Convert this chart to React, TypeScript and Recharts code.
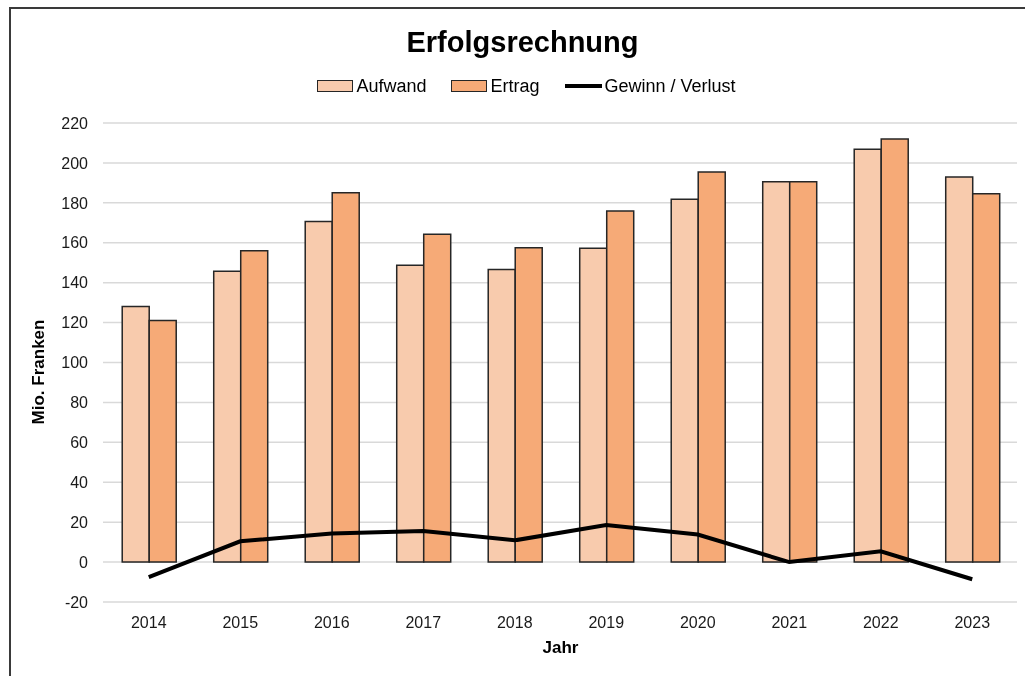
import React from 'react';
import { ComposedChart, Bar, Line, XAxis, YAxis, CartesianGrid } from 'recharts';

const years = ['2014', '2015', '2016', '2017', '2018', '2019', '2020', '2021', '2022', '2023'];
const aufwand = [128.1, 145.7, 170.7, 148.7, 146.6, 157.3, 181.8, 190.6, 206.9, 193.0];
const ertrag = [121.1, 156.0, 185.0, 164.3, 157.5, 175.9, 195.5, 190.6, 212.0, 184.6];
const gewinn = [-7.5, 10.4, 14.3, 15.6, 10.9, 18.6, 13.8, 0.0, 5.4, -8.6];
const yTicks = [-20, 0, 20, 40, 60, 80, 100, 120, 140, 160, 180, 200, 220];

const seriesNames = { aufwand: 'Aufwand', ertrag: 'Ertrag', gewinn: 'Gewinn / Verlust' };
const colors = { aufwand: '#F8CBAD', ertrag: '#F6AA77', gewinn: '#000000', edge: '#262626' };

const data = years.map((y, i) => ({ year: y, aufwand: aufwand[i], ertrag: ertrag[i], gewinn: gewinn[i] }));

const FONT = '"Liberation Sans", Arial, Helvetica, sans-serif';

const YLabel = () => (
  <text
    x={30}
    y={364}
    transform="rotate(-90, 30, 364)"
    textAnchor="middle"
    dominantBaseline="central"
    fontFamily={FONT}
    fontWeight="bold"
    fontSize={17}
    fill="#000"
  >
    Mio. Franken
  </text>
);

export default function App() {
  return (
    <div style={{ position: 'relative', width: 1017, height: 668, fontFamily: FONT }}>
      <div
        style={{
          position: 'fixed',
          left: 9,
          top: 7,
          width: 1100,
          height: 800,
          borderLeft: '2px solid #3a3a3a',
          borderTop: '2px solid #3a3a3a',
          pointerEvents: 'none',
        }}
      />
      <div
        style={{
          position: 'absolute',
          top: 18,
          left: 0,
          width: 1017,
          paddingLeft: 12,
          boxSizing: 'border-box',
          textAlign: 'center',
          fontSize: 29,
          lineHeight: '32px',
          fontWeight: 'bold',
          color: '#000',
        }}
      >
        Erfolgsrechnung
      </div>
      <div
        style={{
          position: 'absolute',
          top: 66,
          left: 0,
          width: 1017,
          height: 24,
          paddingLeft: 20,
          boxSizing: 'border-box',
          display: 'flex',
          alignItems: 'center',
          justifyContent: 'center',
          fontSize: 18,
          color: '#000',
        }}
      >
        {(['aufwand', 'ertrag'] as const).map((k) => (
          <div key={k} style={{ display: 'flex', alignItems: 'center', marginRight: 25 }}>
            <div
              style={{
                width: 34,
                height: 10,
                background: colors[k],
                border: `1px solid ${colors.edge}`,
                marginRight: 3,
              }}
            />
            <span>{seriesNames[k]}</span>
          </div>
        ))}
        <div style={{ display: 'flex', alignItems: 'center' }}>
          <div style={{ width: 37, height: 4, background: colors.gewinn, marginRight: 3 }} />
          <span>{seriesNames.gewinn}</span>
        </div>
      </div>
      <div style={{ position: 'absolute', left: 0, top: 0 }}>
        <ComposedChart
          width={1017}
          height={668}
          data={data}
          margin={{ top: 115, right: 7, bottom: 44, left: 0 }}
          barCategoryGap="21%"
          barGap={0}
        >
          <CartesianGrid vertical={false} stroke="#d9d9d9" strokeWidth={1.5} />
          <XAxis
            dataKey="year"
            axisLine={false}
            tickLine={false}
            tickSize={0}
            tickMargin={15}
            height={30}
            tick={{ fill: '#1a1a1a', fontSize: 16, fontFamily: FONT }}
            label={{
              value: 'Jahr',
              position: 'bottom',
              offset: 9,
              fontWeight: 'bold',
              fontSize: 17,
              fill: '#000',
              fontFamily: FONT,
            }}
          />
          <YAxis
            domain={[-20, 220]}
            ticks={yTicks}
            interval={0}
            axisLine={false}
            tickLine={false}
            tickSize={0}
            tickMargin={15}
            width={95}
            tick={{ fill: '#1a1a1a', fontSize: 16, fontFamily: FONT }}
            label={{ content: () => <YLabel /> }}
          />
          <Bar
            dataKey="aufwand"
            fill={colors.aufwand}
            stroke={colors.edge}
            strokeWidth={1.5}
            isAnimationActive={false}
          />
          <Bar
            dataKey="ertrag"
            fill={colors.ertrag}
            stroke={colors.edge}
            strokeWidth={1.5}
            isAnimationActive={false}
          />
          <Line
            dataKey="gewinn"
            type="linear"
            stroke={colors.gewinn}
            strokeWidth={4}
            dot={false}
            activeDot={false}
            isAnimationActive={false}
          />
        </ComposedChart>
      </div>
    </div>
  );
}
